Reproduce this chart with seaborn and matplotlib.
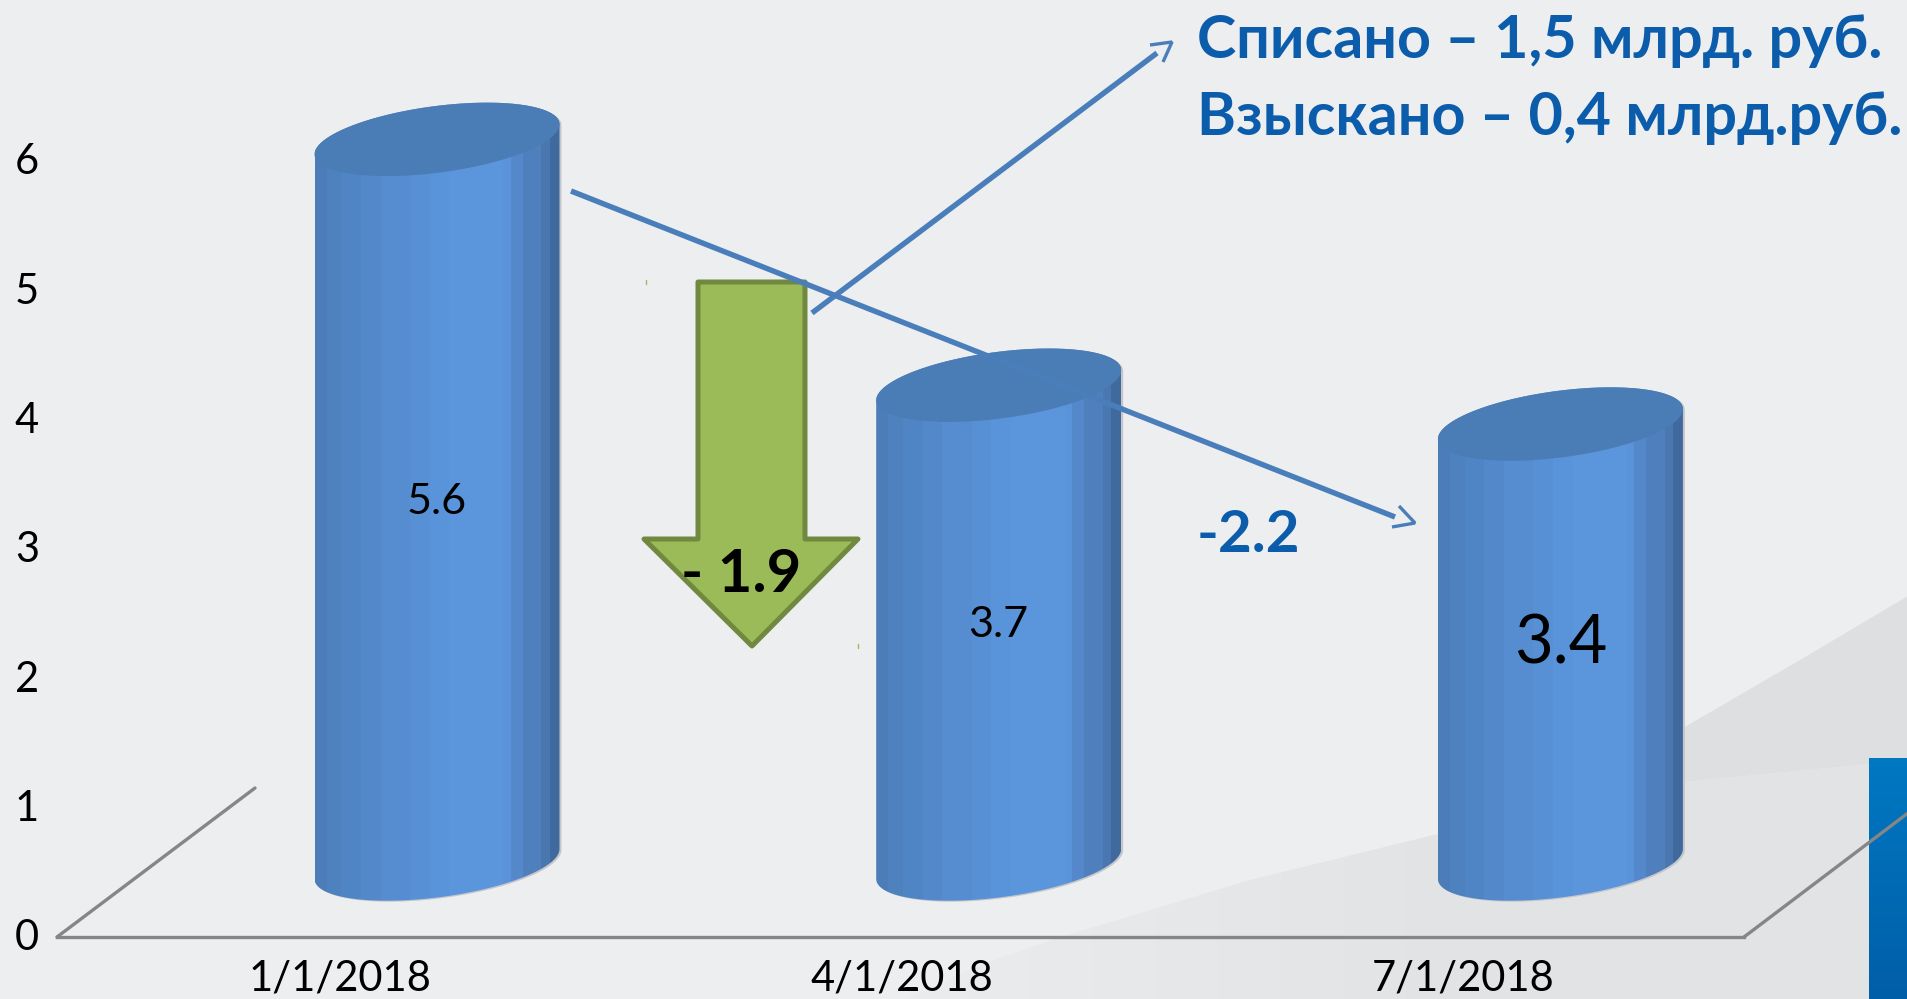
import numpy as np
import seaborn as sns
import matplotlib.pyplot as plt
from matplotlib.patches import Polygon
from matplotlib.transforms import Affine2D

dates = ["1/1/2018", "4/1/2018", "7/1/2018"]
values = [5.6, 3.7, 3.4]
y_ticks = [0, 1, 2, 3, 4, 5, 6]
label_sizes = [31, 31, 48]
note_lines = ["Списано – 1,5 млрд. руб.", "Взыскано – 0,4 млрд.руб."]
drop_first = "- 1.9"
drop_second = "-2.2"

W, H = 1908, 999
BG = "#edeef0"
TEXT_BLUE = "#0b5cab"
LINE_BLUE = "#4a7ebb"
GREY = "#868686"
FONT = ["Lato", "Open Sans", "DejaVu Sans"]

# stepped shading across a cylinder, left to right
BANDS = ["#4c7db8", "#4e82bf", "#5085c5", "#5389cb", "#558dd0", "#5790d5", "#5993da",
         "#5b95dc", "#5b95dc", "#5b95dc", "#5a93d9", "#5488cb", "#4f80bd", "#4a77b0", "#40699e"]
BAND_EDGES = [0, .05, .11, .19, .27, .39, .47, .55, .63, .70, .77, .80, .85, .925, .96, 1]

# pixel scale of the slide
X0, UNIT_X = 437, 561.7
Y0, UNIT_Y = 864, 129.4
FLOOR_SHIFT = 71 / UNIT_Y
TICK_SHIFT = 97 / UNIT_X
TILT = 15 / UNIT_Y
DEPTH = 33.5 / UNIT_Y


def ring(cx, half, level, t):
    return cx + half * np.cos(t), level + TILT * np.cos(t) + DEPTH * np.sin(t)


def draw_cylinder(ax, bar):
    left, width = bar.get_x(), bar.get_width()
    cx, half = left + width / 2, width / 2
    top = bar.get_height()
    bx, by = ring(cx, half, 0, np.linspace(np.pi, 2 * np.pi, 80))
    tx, ty = ring(cx, half, top, np.linspace(0, np.pi, 80))
    outline = np.column_stack([np.r_[bx, tx], np.r_[by, ty]])
    # thin shadow on the right side, offset in pixels
    ax.add_patch(Polygon(outline, closed=True, fc="#c4c6c9", ec="none", zorder=2,
                         transform=ax.transData + Affine2D().translate(2, -1)))
    body = Polygon(outline, closed=True, fc="none", ec="none")
    ax.add_patch(body)
    for k, col in enumerate(BANDS):
        x0 = left + width * BAND_EDGES[k]
        x1 = left + width * BAND_EDGES[k + 1]
        band = ax.fill_between([x0, x1], -1, top + 1, color=col, lw=0, zorder=3)
        band.set_clip_path(body)
    cap_x, cap_y = ring(cx, half, top, np.linspace(0, 2 * np.pi, 160))
    ax.fill(cap_x, cap_y, color="#4a7cb6", lw=0, zorder=5)


def open_arrow(ax, start, end, tip, arm1, arm2):
    ax.plot([start[0], end[0]], [start[1], end[1]], color=LINE_BLUE, lw=3.9, solid_capstyle="butt")
    ax.plot([arm1[0], tip[0], arm2[0]], [arm1[1], tip[1], arm2[1]], color=LINE_BLUE, lw=2.4,
            solid_joinstyle="bevel", solid_capstyle="butt")


def main():
    sns.set_theme(style="white")
    plt.rcParams["font.family"] = FONT

    fig = plt.figure(figsize=(W / 100, H / 100), dpi=100, facecolor=BG)
    back = fig.add_axes([0, 0, 1, 1])
    back.axis("off")

    # background swooshes
    low_x = [905, 986, 1061, 1250, 1438, 1683, 1869, 1908]
    low_y = [999, 963, 937, 880, 834, 782, 764, 762]
    low = Polygon(np.column_stack([low_x + [1908, 905], low_y + [999, 999]]), closed=True,
                  fc="none", ec="none")
    back.add_patch(low)
    shade = np.linspace(0, 1, 128)[None, :]
    img = back.imshow(shade, extent=[905, 1908, 999, 762], aspect="auto", zorder=1,
                      cmap=sns.blend_palette(["#ebecee", "#e3e4e6", "#e2e3e5"], as_cmap=True))
    img.set_clip_path(low)
    back.fill([1560, 1683, 1800, 1908, 1908, 1869, 1683], [795, 728, 660, 596, 762, 764, 782],
              color="#dedfe1", lw=0, zorder=2)
    grad = np.linspace(0, 1, 64)[:, None]
    back.imshow(grad, extent=[1869, 1908, 999, 758], aspect="auto", zorder=3,
                cmap=sns.blend_palette(["#0078c2", "#005ea8"], as_cmap=True))
    back.set_xlim(0, W)
    back.set_ylim(H, 0)

    ax = fig.add_axes([57 / W, (H - 937) / H, (1744 - 57) / W, 937 / H])
    ax.patch.set_alpha(0)
    sns.barplot(x=dates, y=values, ax=ax, width=245 / UNIT_X, color="#5b95dc", errorbar=None)
    ax.set_xlim((57 - X0) / UNIT_X, (1744 - X0) / UNIT_X)
    ax.set_ylim((Y0 - 937) / UNIT_Y, Y0 / UNIT_Y)

    for bar in list(ax.patches):
        draw_cylinder(ax, bar)
        bar.set_visible(False)

    ax.set_xticks(np.arange(len(dates)) - TICK_SHIFT, labels=dates)
    ax.set_yticks(np.array(y_ticks) - FLOOR_SHIFT, labels=y_ticks)
    ax.tick_params(axis="x", length=0, pad=16, labelsize=30, labelcolor="black")
    ax.tick_params(axis="y", length=0, pad=13, labelsize=30, labelcolor="black")
    sns.despine(ax=ax, left=True, right=True, top=True)
    ax.spines["bottom"].set_color(GREY)
    ax.spines["bottom"].set_linewidth(2.4)
    ax.grid(False)

    for i, v in enumerate(values):
        ax.text(i, v / 2, f"{v}", ha="center", va="center", fontsize=label_sizes[i],
                color="black", zorder=6)

    # floor edges and slide annotations, in slide pixels
    top = fig.add_axes([0, 0, 1, 1])
    top.axis("off")
    top.patch.set_alpha(0)

    top.plot([57, 255], [937, 788], color=GREY, lw=2.4)
    top.plot([1744, 1908], [937, 813], color=GREY, lw=2.4)

    top.add_patch(Polygon([(698, 282), (805, 282), (805, 539), (858, 539), (752, 646),
                           (644, 539), (698, 539)], closed=True, fc="#9bbb59", ec="#71893f",
                          lw=3.6, joinstyle="round"))
    top.plot([646, 646], [280, 284], color="#9bbb59", lw=1)
    top.plot([858, 858], [644, 648], color="#9bbb59", lw=1)

    open_arrow(top, (571, 191), (1395, 517), (1415, 523), (1399, 506), (1392, 527))
    open_arrow(top, (812, 313), (1157, 53), (1172, 42), (1150, 45), (1163, 62))

    top.text(1197, 41, note_lines[0], color=TEXT_BLUE, fontsize=42.7, fontweight="bold", va="center")
    top.text(1197, 118, note_lines[1], color=TEXT_BLUE, fontsize=42.7, fontweight="bold", va="center")
    top.text(1197, 535, drop_second, color=TEXT_BLUE, fontsize=42, fontweight="bold", va="center")
    top.text(741, 575, drop_first, color="black", fontsize=43, fontweight="bold",
             ha="center", va="center")
    top.set_xlim(0, W)
    top.set_ylim(H, 0)

    fig.savefig("out.png", dpi=100, facecolor=BG)


if __name__ == "__main__":
    main()
